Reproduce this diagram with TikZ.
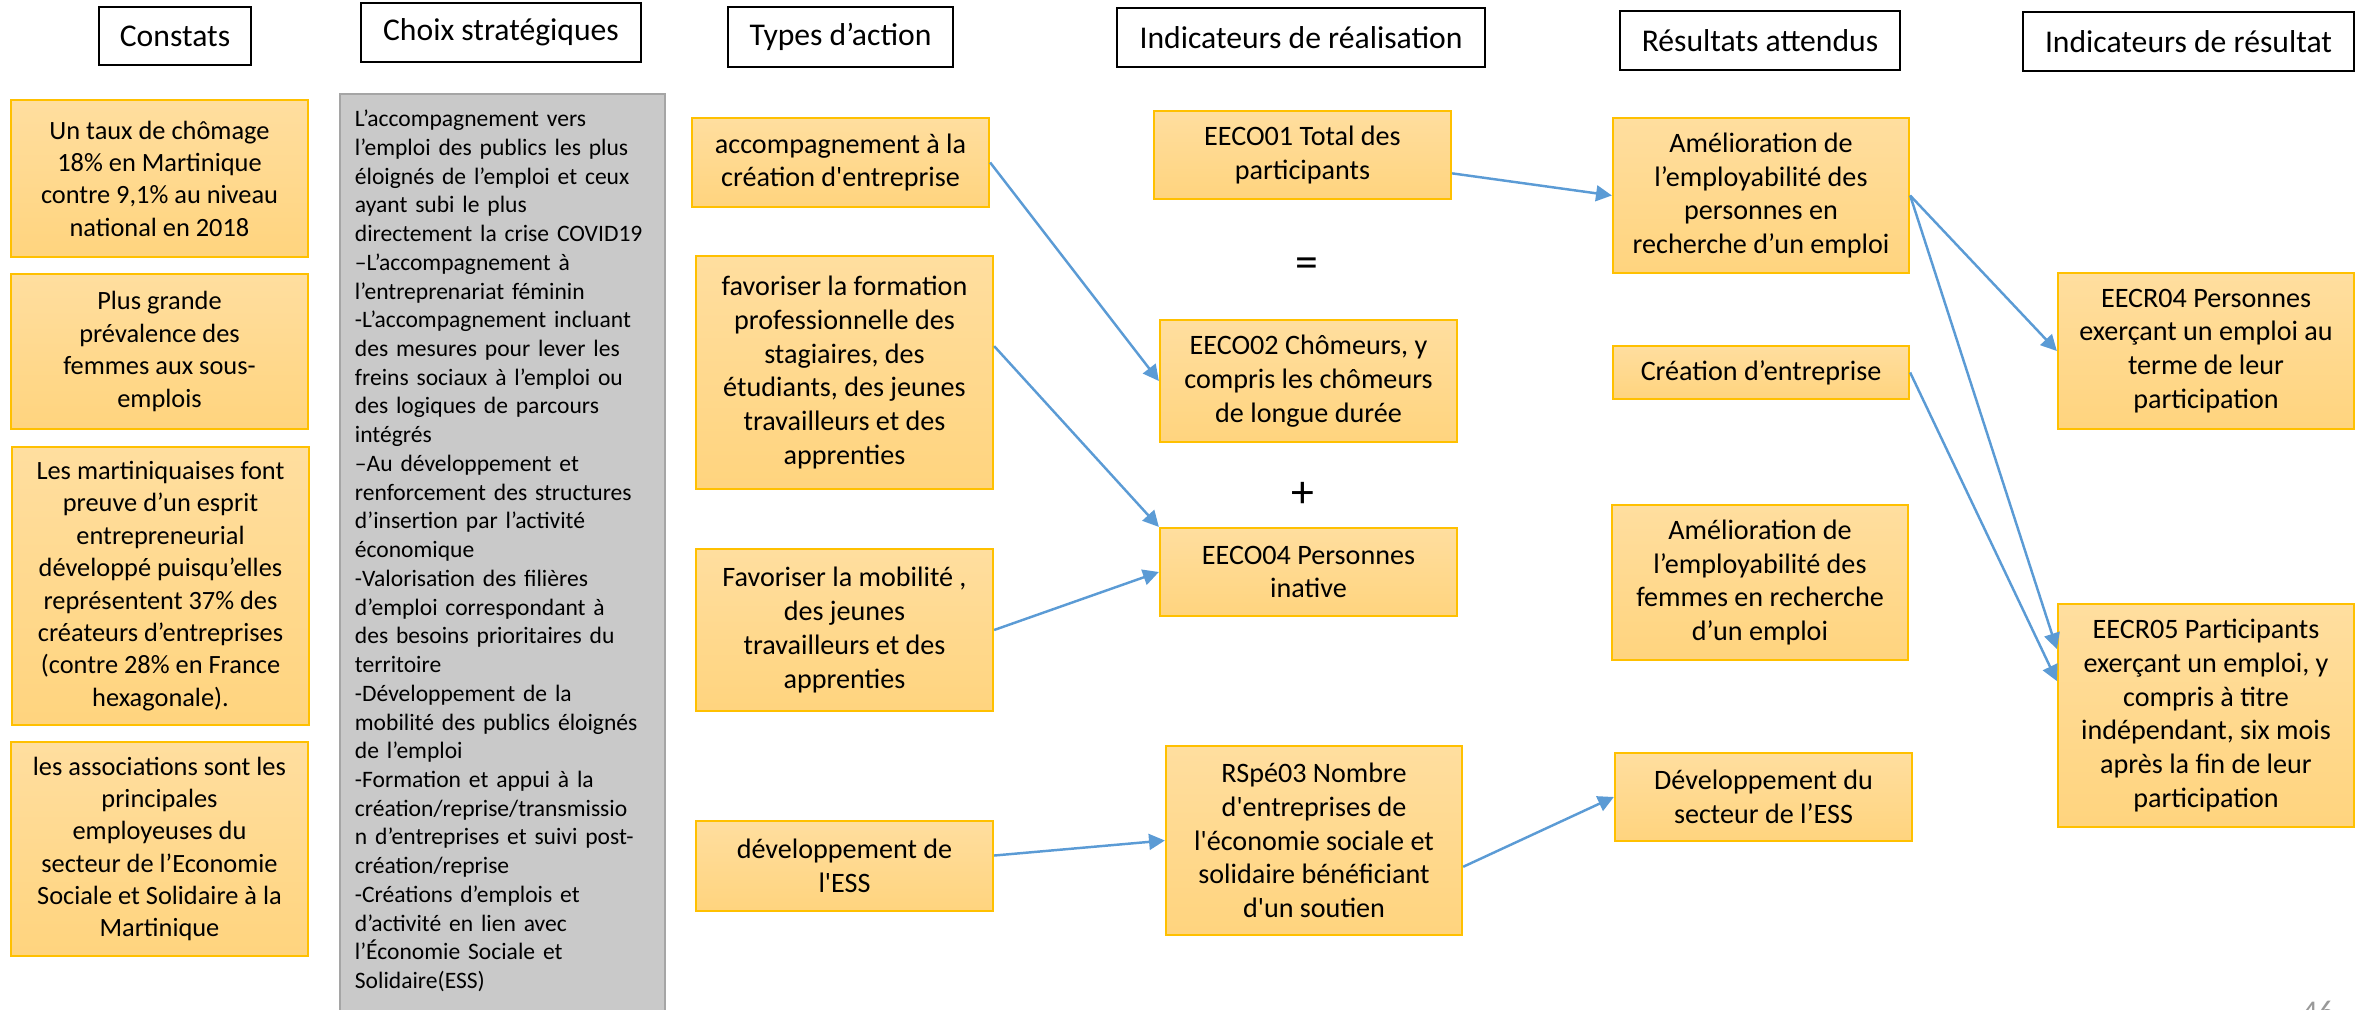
\documentclass[tikz,border=0pt]{standalone}
\usepackage{fontspec}
\setmainfont{Carlito}
\usetikzlibrary{arrows.meta}
\tikzset{>={Triangle[length=4.5pt,width=4.5pt]}}
\definecolor{boxTop}{HTML}{FFDE9F}
\definecolor{boxBottom}{HTML}{FFD47E}
\definecolor{boxBorder}{HTML}{FFC000}
\definecolor{greyFill}{HTML}{C9C9C9}
\definecolor{greyBorder}{HTML}{A5A5A5}
\definecolor{arrowColor}{HTML}{5B9BD5}
\newcommand{\sq}{\textquotesingle}
\tikzset{
	titre/.style={draw=black, line width=0.6pt, fill=white, inner sep=0pt, font=\fontsize{9}{11}\selectfont},
	jaune/.style={draw=boxBorder, line width=0.6pt, top color=boxTop, bottom color=boxBottom, inner sep=0pt, align=center, font=\fontsize{8}{9.6}\selectfont},
	constat/.style={jaune, font=\fontsize{7.5}{9.2}\selectfont},
	gris/.style={draw=greyBorder, line width=0.6pt, fill=greyFill, text width=2.95cm, align=left, inner xsep=0.15cm, inner ysep=0.16cm, font=\fontsize{6.7}{8.17}\selectfont},
	fleche/.style={->, draw=arrowColor, line width=0.7pt}
}

\begin{document}
\begin{tikzpicture}[x=0.01cm,y=-0.01cm]
				\useasboundingbox (0,0) rectangle (2369,1010);
				\clip (0,0) rectangle (2369,1010);
				% titres des colonnes
				\node [titre, minimum width=1.52cm, minimum height=0.58cm] (hConst) at (175,36) {Constats};
				\node [titre, minimum width=2.80cm, minimum height=0.59cm] (hChoix) at (501,32.5) {Choix stratégiques};
				\node [titre, minimum width=2.25cm, minimum height=0.60cm] (hTypes) at (840.5,37) {Types d’action};
				\node [titre, minimum width=3.68cm, minimum height=0.59cm] (hReal) at (1301,37.5) {Indicateurs de réalisation};
				\node [titre, minimum width=2.80cm, minimum height=0.59cm] (hRes) at (1760,40.5) {Résultats attendus};
				\node [titre, minimum width=3.31cm, minimum height=0.59cm] (hInd) at (2188.5,41.5) {Indicateurs de résultat};
				
				% constats
				\node [constat, minimum width=2.97cm, minimum height=1.57cm] (c1) at (159.5,178.5) {Un taux de chômage\\18\% en Martinique\\contre 9,1\% au niveau\\national en 2018};
				\node [constat, minimum width=2.97cm, minimum height=1.55cm] (c2) at (159.5,351.5) {Plus grande\\prévalence des\\femmes aux sous-\\emplois};
				\node [constat, minimum width=2.97cm, minimum height=2.78cm] (c3) at (160.5,586) {Les martiniquaises font\\preuve d’un esprit\\entrepreneurial\\développé puisqu’elles\\représentent 37\% des\\créateurs d’entreprises\\(contre 28\% en France\\hexagonale).};
				\node [constat, minimum width=2.97cm, minimum height=2.14cm] (c4) at (159.5,849) {les associations sont les\\principales\\employeuses du\\secteur de l’Economie\\Sociale et Solidaire à la\\Martinique};
				
				% choix strategiques
				\node [gris, anchor=north] (choix) at (502.5,93) {L’accompagnement vers\\l’emploi des publics les plus\\éloignés de l’emploi et ceux\\ayant subi le plus\\directement la crise COVID19\\–L’accompagnement à\\l’entreprenariat féminin\\-L’accompagnement incluant\\des mesures pour lever les\\freins sociaux à l’emploi ou\\des logiques de parcours\\intégrés\\–Au développement et\\renforcement des structures\\d’insertion par l’activité\\économique\\-Valorisation des filières\\d’emploi correspondant à\\des besoins prioritaires du\\territoire\\-Développement de la\\mobilité des publics éloignés\\de l’emploi\\-Formation et appui à la\\création/reprise/transmissio\\n d’entreprises et suivi post-\\création/reprise\\-Créations d’emplois et\\d’activité en lien avec\\l’Économie Sociale et\\Solidaire(ESS)\rule[-0.25cm]{0pt}{0pt}};
				
				% types d'action
				\node [jaune, minimum width=2.97cm, minimum height=0.89cm] (a1) at (840.5,162.5) {accompagnement à la\\création d\sq entreprise};
				\node [jaune, minimum width=2.97cm, minimum height=2.33cm] (a2) at (844.5,372.5) {favoriser la formation\\professionnelle des\\stagiaires, des\\étudiants, des jeunes\\travailleurs et des\\apprenties};
				\node [jaune, minimum width=2.97cm, minimum height=1.62cm] (a3) at (844.5,630) {Favoriser la mobilité ,\\des jeunes\\travailleurs et des\\apprenties};
				\node [jaune, minimum width=2.97cm, minimum height=0.90cm] (a4) at (844.5,866) {développement de\\l\sq ESS};
				
				% indicateurs de realisation
				\node [jaune, minimum width=2.97cm, minimum height=0.88cm] (r1) at (1302.5,155) {EECO01 Total des\\participants};
				\node [font=\fontsize{13}{14}\selectfont] (egal) at (1307,268) {=};
				\node [jaune, minimum width=2.97cm, minimum height=1.22cm] (r2) at (1308.5,381) {EECO02 Chômeurs, y\\compris les chômeurs\\de longue durée};
				\node [font=\fontsize{13}{14}\selectfont] (plus) at (1303,495) {+};
				\node [jaune, minimum width=2.97cm, minimum height=0.88cm] (r3) at (1308.5,572) {EECO04 Personnes\\inative};
				\node [jaune, minimum width=2.96cm, minimum height=1.89cm] (r4) at (1314,840.5) {RSpé03 Nombre\\d\sq entreprises de\\l\sq économie sociale et\\solidaire bénéficiant\\d\sq un soutien};
				
				% resultats attendus
				\node [jaune, minimum width=2.96cm, minimum height=1.55cm] (s1) at (1761,195.5) {Amélioration de\\l’employabilité des\\personnes en\\recherche d’un emploi};
				\node [jaune, minimum width=2.96cm, minimum height=0.53cm] (s2) at (1761,372.5) {Création d’entreprise};
				\node [jaune, minimum width=2.96cm, minimum height=1.55cm] (s3) at (1760,582.5) {Amélioration de\\l’employabilité des\\femmes en recherche\\d’un emploi};
				\node [jaune, minimum width=2.97cm, minimum height=0.88cm] (s4) at (1763.5,797) {Développement du\\secteur de l’ESS};
				
				% indicateurs de resultat
				\node [jaune, minimum width=2.96cm, minimum height=1.56cm] (t1) at (2206,351) {EECR04 Personnes\\exerçant un emploi au\\terme de leur\\participation};
				\node [jaune, minimum width=2.96cm, minimum height=2.23cm] (t2) at (2206,715.5) {EECR05 Participants\\exerçant un emploi, y\\compris à titre\\indépendant, six mois\\après la fin de leur\\participation};
				
				\draw [fleche] (a1.east) -- (r2.west);
				\draw [fleche] (a2.10) -- (r3.north west);
				\draw [fleche] (a3.east) -- (r3.west);
				\draw [fleche] (a4.4) -- (r4.west);
				\draw [fleche] (r1.-7) -- (s1.west);
				\draw [fleche] (r4.-10) -- (s4.west);
				\draw [fleche] (s1.east) -- (t1.west);
				\draw [fleche] (s1.east) -- (t2.156);
				\draw [fleche] (s2.east) -- (t2.167);
				
				\node [text=gray!80, font=\fontsize{9}{10}\selectfont, anchor=north, inner sep=0pt] (page) at (2318,1000) {46};
\end{tikzpicture}
\end{document}
